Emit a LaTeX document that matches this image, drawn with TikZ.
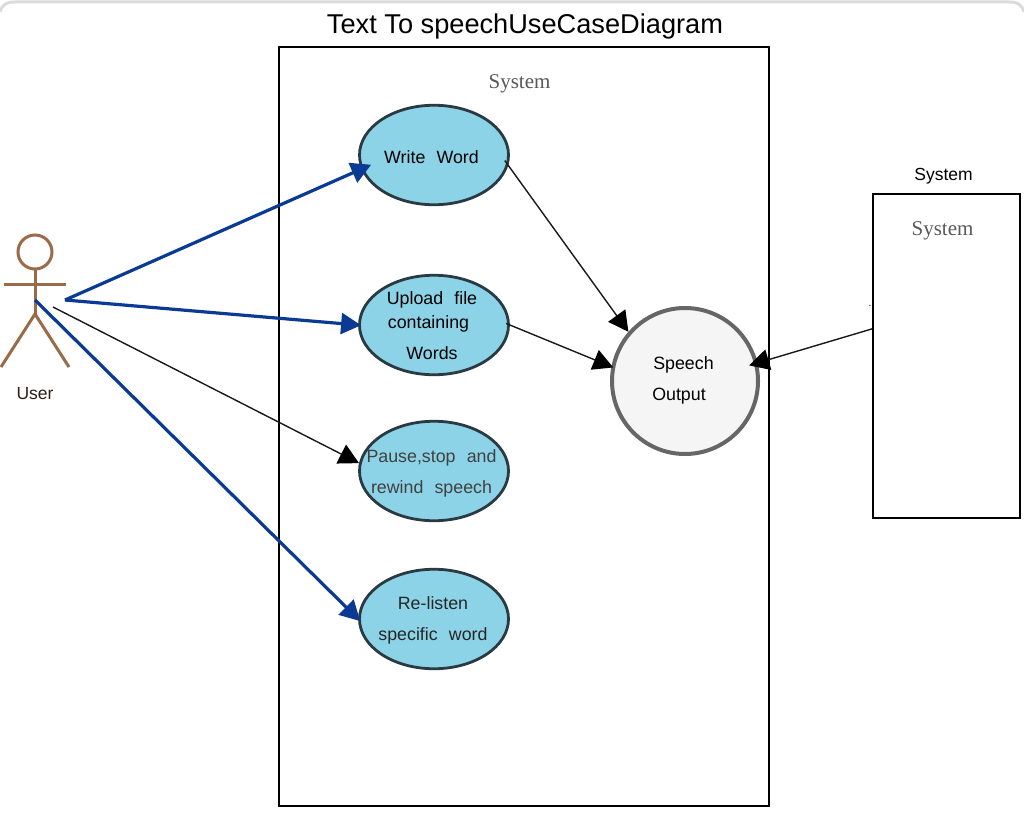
\documentclass[tikz,border=0pt]{standalone}
\usepackage{fontspec}
\setmainfont{Liberation Sans}
\newfontfamily\serifname{Liberation Serif}
\usetikzlibrary{arrows.meta}
\usetikzlibrary{shapes.geometric}
\definecolor{casefill}{HTML}{8DD3E8}
\definecolor{caseline}{HTML}{2A3A42}
\definecolor{actorline}{HTML}{9A6B48}
\definecolor{userblue}{HTML}{0A3A94}
\tikzset{
    usecase/.style={ellipse,draw=caseline,fill=casefill,line width=2.8pt,minimum width=149pt,minimum height=99.5pt,inner sep=0pt},
    casetext/.style={align=center,inner sep=0pt,font=\fontsize{17.8}{31}\selectfont},
    sysbox/.style={rectangle,draw=black,line width=2pt,inner sep=0pt},
    sysname/.style={font=\serifname\fontsize{21}{24}\selectfont,text=black!65},
    bluearrow/.style={userblue,line width=3.2pt,-{Triangle[length=20pt,width=21pt]}},
    thinarrow/.style={black!90,line width=1.4pt,-{Triangle[length=20pt,width=21pt,black]}},
    actorstroke/.style={actorline,line width=3pt}
}
\begin{document}
\begin{tikzpicture}[x=1pt,y=-1pt]
        \useasboundingbox (0,0) rectangle (1024,816);
        \fill[white] (0,0) rectangle (1024,816);
        \draw[black!14,line width=3pt] (0,12) .. controls (2,5) and (6,2) .. (14,2) -- (1010,2) .. controls (1018,2) and (1022,5) .. (1024,12);

        \node (title) at (525,26) {\fontsize{27.2}{30}\selectfont Text To speechUseCaseDiagram};
        \node[sysbox,minimum width=490pt,minimum height=759pt] (mainbox) at (524,426.5) {};
        \node[sysname] (mainname) at (519.5,84) {System};
        \node[sysbox,minimum width=147pt,minimum height=324pt] (sidebox) at (946.5,356) {};
        \node[font=\fontsize{17.5}{20}\selectfont] (sidetitle) at (943.5,176) {System};
        \node[sysname] (sidename) at (942.5,231) {System};
        \node[font=\fontsize{10}{12}\selectfont,inner sep=0pt] (sidedot) at (870,306) {.};

        \node[usecase] (writecase) at (434,155) {};
        \node[usecase] (uploadcase) at (434,325) {};
        \node[usecase] (pausecase) at (434,471) {};
        \node[usecase] (relistencase) at (434,619) {};
        \node[circle,draw=black!60,fill=black!4,line width=4pt,minimum size=146pt,inner sep=0pt] (speechcase) at (685,381) {};

        \node[casetext] (writetext) at (431.5,157) {Write\hspace{0.35em} Word};
        \node[casetext] (uploadtext) at (432,326) {Upload\hspace{0.35em} file\\[-7pt]containing\hspace{7pt}\mbox{}\\Words};
        \node[casetext,text=black!75] (pausetext) at (431.5,473) {Pause,stop\hspace{0.35em} and\\rewind\hspace{0.35em} speech};
        \node[casetext,text=black!85] (relistentext) at (433,620) {Re-listen\\specific\hspace{0.35em} word};
        \node[casetext] (speechtext) at (683.5,380) {Speech\\Output\hspace{9pt}\mbox{}};

        % actor
        \draw[actorstroke] (35,252) circle (17);
        \coordinate (neck) at (35,269);
        \coordinate (hip) at (35,314);
        \draw[actorstroke] (neck) -- (hip);
        \draw[actorstroke] (4,284) -- (66,284);
        \draw[actorstroke] (1,367) -- (hip) -- (69,367);
        \node[text=black!70!actorline,font=\fontsize{17.5}{20}\selectfont] (username) at (35,394) {User};

        \coordinate (hubtop) at (65,300);
        \coordinate (hubmid) at (53,307);
        \coordinate (hublow) at (35,300);

        \draw[bluearrow,shorten >=-11pt] (hubtop) -- (writecase.191);
        \draw[bluearrow,shorten >=-3pt] (hubtop) -- (uploadcase.west);
        \draw[thinarrow] (hubmid) -- (pausecase.174);
        \draw[bluearrow,shorten >=-3pt] (hublow) -- (relistencase.west);
        \draw[thinarrow,shorten <=-6pt] (writecase.-8) -- (speechcase.139);
        \draw[thinarrow,shorten <=-4pt,shorten >=-2pt] (uploadcase.east) -- (speechcase.169);
        \draw[thinarrow,shorten >=-9pt] (sidebox.160.6) -- (speechcase.14);
    \end{tikzpicture}
\end{document}
